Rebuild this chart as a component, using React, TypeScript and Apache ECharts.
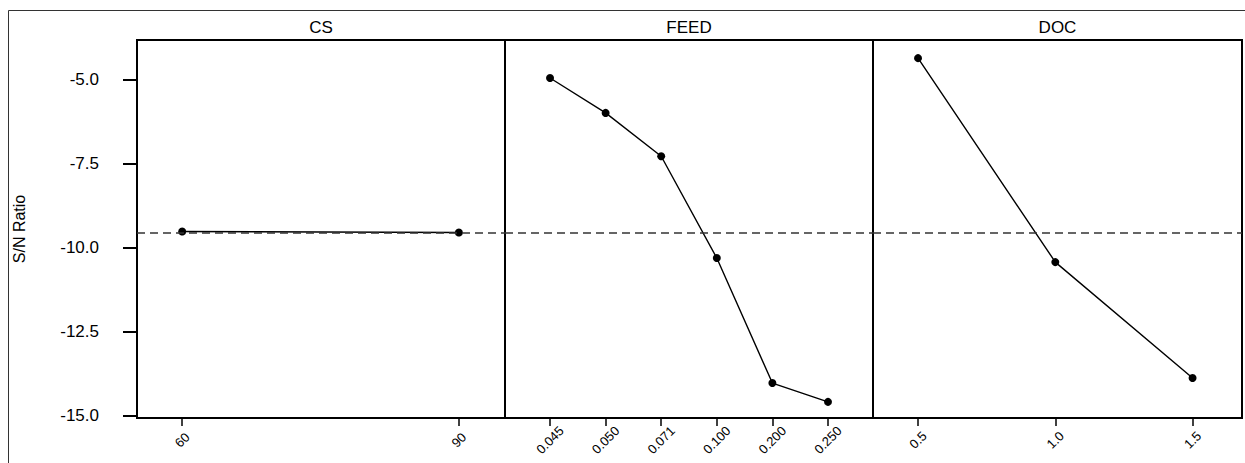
import React, { useEffect, useRef } from "react";
import * as echarts from "echarts";

const CS_LEVELS = [60, 90];
const CS_SN = [-9.51, -9.54];
const FEED_LEVELS = ["0.045", "0.050", "0.071", "0.100", "0.200", "0.250"];
const FEED_SN = [-4.94, -5.98, -7.27, -10.3, -14.02, -14.58];
const DOC_LEVELS = [0.5, 1.0, 1.5];
const DOC_SN = [-4.35, -10.42, -13.87];
const MEAN_SN = -9.54;
const Y_TICKS = [-15, -12.5, -10, -7.5, -5];
const PANEL_TITLES = ["CS", "FEED", "DOC"];

const FONT = "Liberation Sans, Arial, sans-serif";

export default function App() {
  const ref = useRef<HTMLDivElement>(null);
  useEffect(() => {
    if (!ref.current) return;
    const chart = echarts.init(ref.current, null, { renderer: "svg" });
    const panels = [
      { left: 137, width: 368 },
      { left: 505, width: 368 },
      { left: 873, width: 369 },
    ];
    const top = 40;
    const height = 378;
    const yMin = -15.06;
    const yMax = -3.81;

    const xLabelCommon = {
      rotate: 45,
      align: "center",
      verticalAlign: "middle",
      margin: 22,
      fontSize: 13,
      color: "#000",
      fontFamily: FONT,
    };
    const xCommon = (idx: number) => ({
      type: "value",
      gridIndex: idx,
      splitLine: { show: false },
      axisLine: { show: true, lineStyle: { color: "#000", width: 2 } },
      axisTick: { show: true, length: 8, lineStyle: { color: "#000", width: 1.5 } },
    });

    const meanLine = {
      silent: true,
      symbol: "none",
      label: { show: false },
      lineStyle: { type: [8, 5], color: "#333", width: 1.5 },
      data: [{ yAxis: MEAN_SN }],
    };
    const seriesCommon = {
      type: "line",
      symbol: "circle",
      symbolSize: 8,
      itemStyle: { color: "#000" },
      lineStyle: { color: "#000", width: 1.4 },
      markLine: meanLine,
    };

    const option: any = {
      animation: false,
      backgroundColor: "#fff",
      textStyle: { fontFamily: FONT },
      grid: panels.map((p) => ({
        left: p.left,
        width: p.width,
        top,
        height,
        show: true,
        borderColor: "#000",
        borderWidth: 2,
        containLabel: false,
      })),
      xAxis: [
        {
          ...xCommon(0),
          min: 55.1,
          max: 95.0,
          axisTick: { ...xCommon(0).axisTick, customValues: CS_LEVELS },
          axisLabel: {
            ...xLabelCommon,
            customValues: CS_LEVELS,
            formatter: (v: number) => String(v),
          },
        },
        {
          ...xCommon(1),
          min: -0.81,
          max: 5.81,
          axisTick: { ...xCommon(1).axisTick, customValues: FEED_LEVELS.map((_, i) => i) },
          axisLabel: {
            ...xLabelCommon,
            customValues: FEED_LEVELS.map((_, i) => i),
            formatter: (v: number) => FEED_LEVELS[Math.round(v)] ?? "",
          },
        },
        {
          ...xCommon(2),
          min: 0.336,
          max: 1.68,
          axisTick: { ...xCommon(2).axisTick, customValues: DOC_LEVELS },
          axisLabel: {
            ...xLabelCommon,
            customValues: DOC_LEVELS,
            formatter: (v: number) => v.toFixed(1),
          },
        },
      ],
      yAxis: [0, 1, 2].map((i) => ({
        type: "value",
        gridIndex: i,
        min: yMin,
        max: yMax,
        show: i === 0,
        splitLine: { show: false },
        name: i === 0 ? "S/N Ratio" : "",
        nameLocation: "middle",
        nameRotate: 90,
        nameGap: 110,
        nameTextStyle: { fontSize: 16, color: "#000", fontFamily: FONT },
        axisLine: { show: true, lineStyle: { color: "#000", width: 2 } },
        axisTick: {
          show: true,
          length: 14,
          customValues: Y_TICKS,
          lineStyle: { color: "#000", width: 2 },
        },
        axisLabel: {
          show: true,
          customValues: Y_TICKS,
          margin: 38,
          fontSize: 17,
          color: "#000",
          fontFamily: FONT,
          formatter: (v: number) => v.toFixed(1),
        },
      })),
      series: [
        {
          ...seriesCommon,
          xAxisIndex: 0,
          yAxisIndex: 0,
          data: CS_LEVELS.map((x, i) => [x, CS_SN[i]]),
        },
        {
          ...seriesCommon,
          xAxisIndex: 1,
          yAxisIndex: 1,
          data: FEED_SN.map((y, i) => [i, y]),
        },
        {
          ...seriesCommon,
          xAxisIndex: 2,
          yAxisIndex: 2,
          data: DOC_LEVELS.map((x, i) => [x, DOC_SN[i]]),
        },
      ],
      graphic: [
        {
          type: "rect",
          shape: { x: 8.5, y: 10.5, width: 1260, height: 470 },
          style: { fill: "none", stroke: "#333", lineWidth: 1 },
          silent: true,
        },
        ...panels.map((p, i) => ({
          type: "text",
          x: p.left + p.width / 2,
          y: 27,
          style: {
            text: PANEL_TITLES[i],
            fontSize: 17,
            fontFamily: FONT,
            fill: "#000",
            textAlign: "center",
            textVerticalAlign: "middle",
          },
        })),
      ],
    };
    chart.setOption(option);
    return () => chart.dispose();
  }, []);
  return (
    <div
      ref={ref}
      style={{ position: "fixed", left: 0, top: 0, width: 1245, height: 463 }}
    />
  );
}
